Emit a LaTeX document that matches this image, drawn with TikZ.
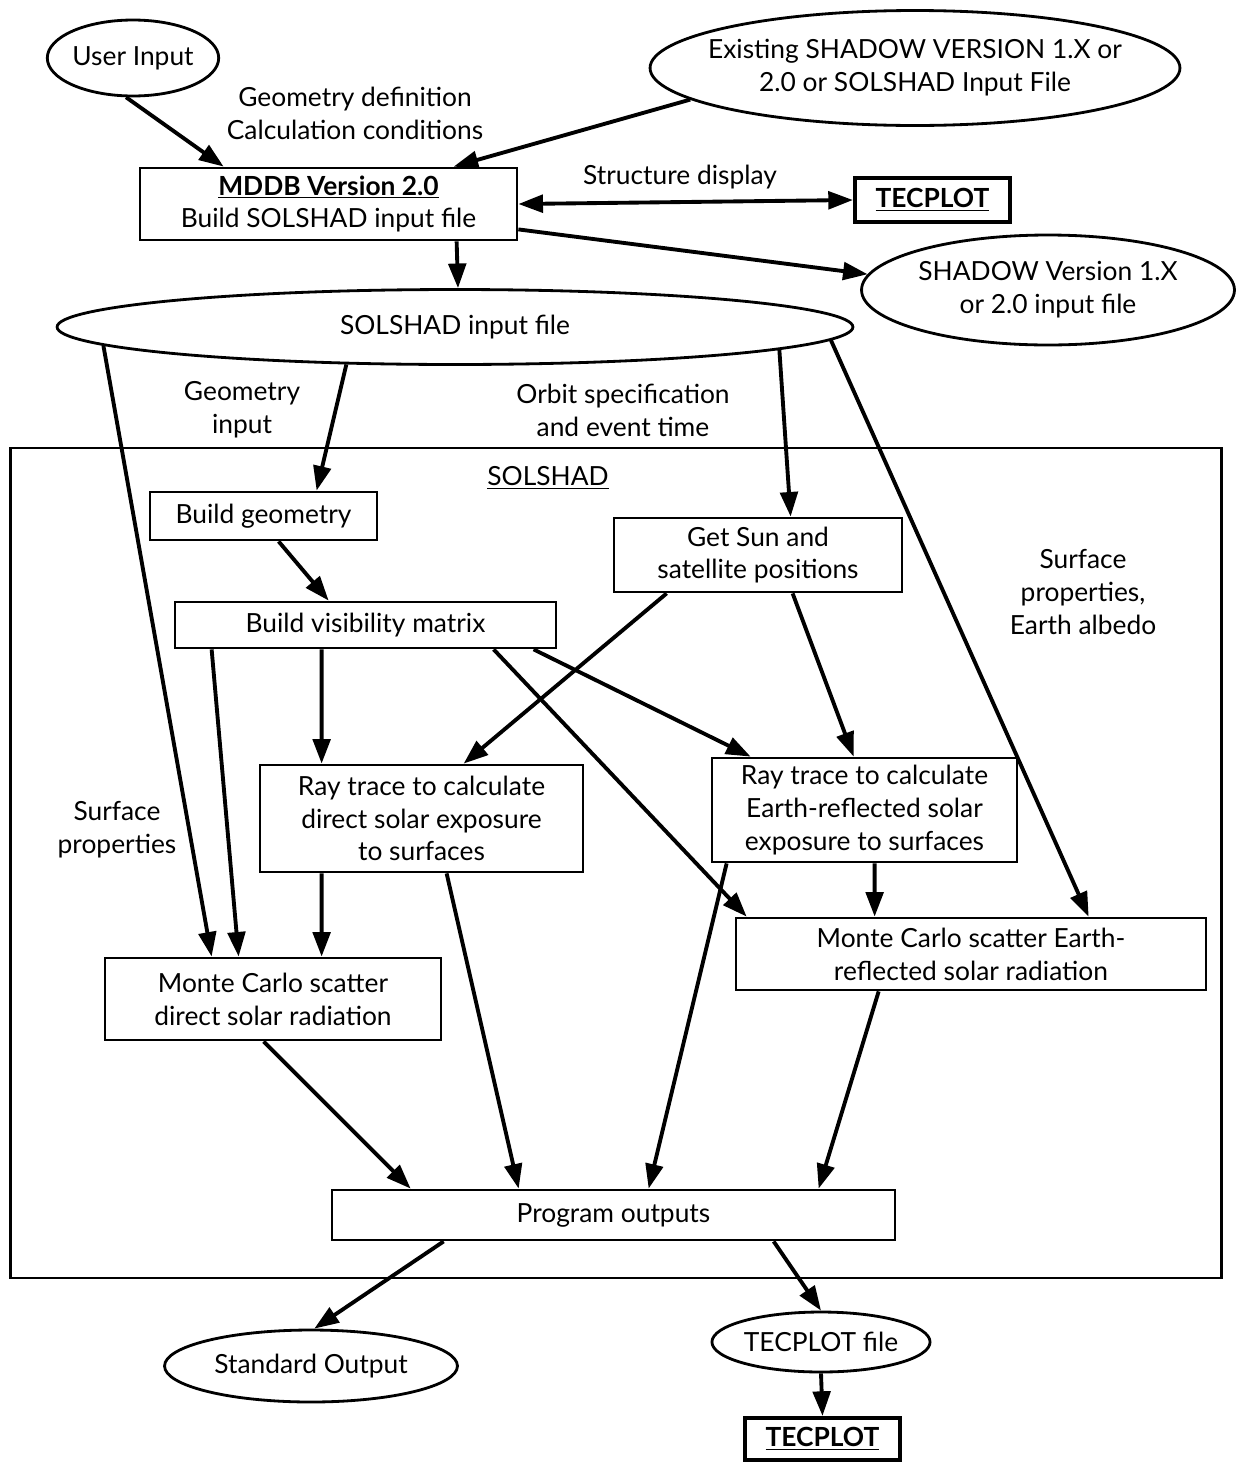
\documentclass[tikz,border=0pt]{standalone}
\usepackage{fontspec}
\setmainfont{Lato}
\usetikzlibrary{shapes.geometric,arrows.meta,calc}
\begin{document}
\begin{tikzpicture}[x=0.02cm,y=-0.02cm,
  every node/.style={font=\fontsize{15}{18.7}\selectfont, align=center},
  box/.style={draw, line width=1.6pt, rectangle, inner sep=0pt},
  ell/.style={draw, line width=1.6pt, ellipse, inner sep=0pt},
  tecbox/.style={draw, line width=2.4pt, rectangle, inner sep=0pt},
  lbl/.style={inner sep=1pt},
  arr/.style={line width=2.2pt, -{Triangle[length=14pt,width=10pt]}},
  darr/.style={line width=2.2pt, {Triangle[length=14pt,width=10pt]}-{Triangle[length=14pt,width=10pt]}}
]
\useasboundingbox (0,0) rectangle (1242,1464);
% outer SOLSHAD box
\node[box, minimum width=24.24cm, minimum height=16.6cm] (outer) at (616,863) {};
\node[lbl] (solshadlbl) at (548,478) {\underline{SOLSHAD}};

% ellipses
\node[ell, minimum width=3.24cm, minimum height=1.52cm] (ui) at (133,58) {User Input};
\node[ell, inner xsep=-0.4cm, minimum width=10.6cm, minimum height=2.3cm] (ex) at (915,68) {Existing SHADOW VERSION 1.X or\\2.0 or SOLSHAD Input File};
\node[ell, minimum width=7.46cm, minimum height=2.2cm] (sh) at (1048,290) {SHADOW Version 1.X\\or 2.0 input file};
\node[ell, minimum width=15.92cm, minimum height=1.5cm] (si) at (455,327) {SOLSHAD input file};
\node[ell, minimum width=5.86cm, minimum height=1.44cm] (so) at (311,1366) {Standard Output};
\node[ell, minimum width=4.34cm, minimum height=1.2cm] (tf) at (821,1342) {TECPLOT file};

% boxes
\node[box, minimum width=7.54cm, minimum height=1.44cm] (mddb) at (328.5,204) {\underline{\textbf{MDDB Version 2.0}}\\Build SOLSHAD input file};
\node[tecbox, minimum width=3.1cm, minimum height=0.88cm] (tec1) at (932.5,200) {\underline{\textbf{TECPLOT}}};
\node[box, minimum width=4.54cm, minimum height=0.96cm] (bg) at (263.5,516) {Build geometry};
\node[box, minimum width=5.76cm, minimum height=1.48cm] (gs) at (758,555) {Get Sun and\\satellite positions};
\node[box, minimum width=7.62cm, minimum height=0.92cm] (bv) at (365.5,625) {Build visibility matrix};
\node[box, minimum width=6.46cm, minimum height=2.14cm] (rd) at (421.5,818.5) {Ray trace to calculate\\direct solar exposure\\to surfaces};
\node[box, minimum width=6.1cm, minimum height=2.08cm] (re) at (864.5,810) {Ray trace to calculate\\Earth-reflected solar\\exposure to surfaces};
\node[box, minimum width=6.72cm, minimum height=1.64cm] (md) at (273,999) {Monte Carlo scatter\\direct solar radiation};
\node[box, minimum width=9.4cm, minimum height=1.44cm] (me) at (971,954) {Monte Carlo scatter Earth-\\reflected solar radiation};
\node[box, minimum width=11.26cm, minimum height=1.0cm] (po) at (613.5,1215) {Program outputs};
\node[tecbox, minimum width=3.1cm, minimum height=0.84cm] (tec2) at (822.5,1439) {\underline{\textbf{TECPLOT}}};

% labels
\node[lbl] (l1) at (355,113) {Geometry definition\\Calculation conditions};
\node[lbl] (l2) at (680,177) {Structure display};
\node[lbl] (l3) at (242,410) {Geometry\\input};
\node[lbl] (l4) at (623,410) {Orbit specification\\and event time};
\node[lbl] (l5) at (1083,592) {Surface\\properties,\\Earth albedo};
\node[lbl] (l6) at (117,830) {Surface\\properties};

% connectors
\draw[arr] (ui.-100) -- ($(mddb.north west)+(85,0)$);
\draw[arr] (ex.188) -- ($(mddb.north west)+(315,0)$);
\draw[darr] (mddb.east) -- (tec1.west);
\draw[arr] ($(mddb.south east)+(0,-12)$) -- (sh.175);
\draw[arr] ($(mddb.south west)+(318,0)$) -- ($(si.north)+(3,0)$);
\draw[arr] (si.183) -- ($(md.north west)+(108,0)$);
\draw[arr] (si.199) -- ($(bg.north west)+(168,0)$);
\draw[arr] (si.-4) -- ($(gs.north west)+(178,0)$);
\draw[arr] (si.-2) -- ($(me.north west)+(354,0)$);
\draw[arr] ($(bg.south west)+(130,0)$) -- ($(bv.north west)+(155,0)$);
\draw[arr] ($(bv.south west)+(38,0)$) -- ($(md.north west)+(135,0)$);
\draw[arr] ($(bv.south west)+(148,0)$) -- ($(rd.north west)+(63,0)$);
\draw[arr] ($(bv.south west)+(320,0)$) -- ($(me.north west)+(12,0)$);
\draw[arr] ($(bv.south west)+(360,0)$) -- ($(re.north west)+(40,0)$);
\draw[arr] ($(gs.south west)+(54,0)$) -- ($(rd.north west)+(205,0)$);
\draw[arr] ($(gs.south west)+(180,0)$) -- ($(re.north west)+(143,0)$);
\draw[arr] ($(rd.south west)+(63,0)$) -- ($(md.north west)+(218,0)$);
\draw[arr] ($(re.south west)+(164,0)$) -- ($(me.north west)+(140,0)$);
\draw[arr] ($(md.south west)+(160,0)$) -- ($(po.north west)+(80,0)$);
\draw[arr] ($(rd.south west)+(188,0)$) -- ($(po.north west)+(188,0)$);
\draw[arr] ($(re.south west)+(16,0)$) -- ($(po.north west)+(318,0)$);
\draw[arr] ($(me.south west)+(144,0)$) -- ($(po.north west)+(488,0)$);
\draw[arr] ($(po.south west)+(113,0)$) -- (so.85);
\draw[arr] ($(po.south west)+(443,0)$) -- (tf.north);
\draw[arr] (tf.south) -- (tec2.north);
\end{tikzpicture}
\end{document}
